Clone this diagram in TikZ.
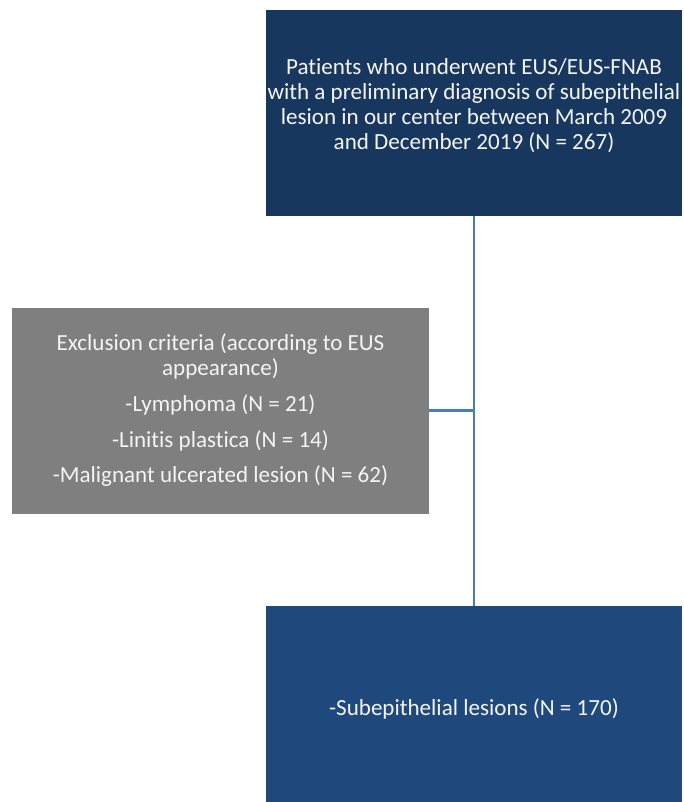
\documentclass[tikz,border=0pt]{standalone}
\usepackage{fontspec}
\setmainfont{Carlito}[Ligatures=NoCommon]
\usepackage{tikz}
\usetikzlibrary{positioning,calc}
\definecolor{fcnavy}{HTML}{17375E}
\definecolor{fcblue}{HTML}{1F497D}
\definecolor{fcgrey}{HTML}{7F7F7F}
\definecolor{fcline}{HTML}{4A7EBB}
\definecolor{fctext}{HTML}{F4F4F4}
\tikzset{
  bx/.style={align=center, text=fctext, inner sep=0pt, minimum width=312.5pt, minimum height=154.5pt,
    font=\fontsize{17.3pt}{18.75pt}\selectfont},
  top/.style={bx, fill=fcnavy, text depth=13pt},
  excl/.style={bx, fill=fcgrey},
  incl/.style={bx, fill=fcblue, minimum height=147pt, text height=20.5pt},
  link/.style={draw=fcline, line width=2.2pt},
}
\begin{document}
\begin{tikzpicture}[x=0.75pt, y=-0.75pt]
    \useasboundingbox (0,0) rectangle (684,802);
    % boxes
    \node[top] (pat) at (474,113) {Patients who underwent EUS/EUS-FNAB\\with a preliminary diagnosis of subepithelial\\lesion in our center between March 2009\\and December 2019 (N = 267)};
    \node[excl] (exc) at (220.5,410.5) {Exclusion criteria (according to EUS\\appearance)\\[8pt]-Lymphoma (N = 21)\\[8pt]-Linitis plastica (N = 14)\\[8pt]-Malignant ulcerated lesion (N = 62)};
    \node[incl] (sel) at (474,704) {-Subepithelial lesions (N = 170)};
    % connectors
    \coordinate (j) at (exc.east -| pat.south);
    \draw[link] (pat.south) -- (sel.north);
    \draw[link] (exc.east) -- (j);
  \end{tikzpicture}
\end{document}
